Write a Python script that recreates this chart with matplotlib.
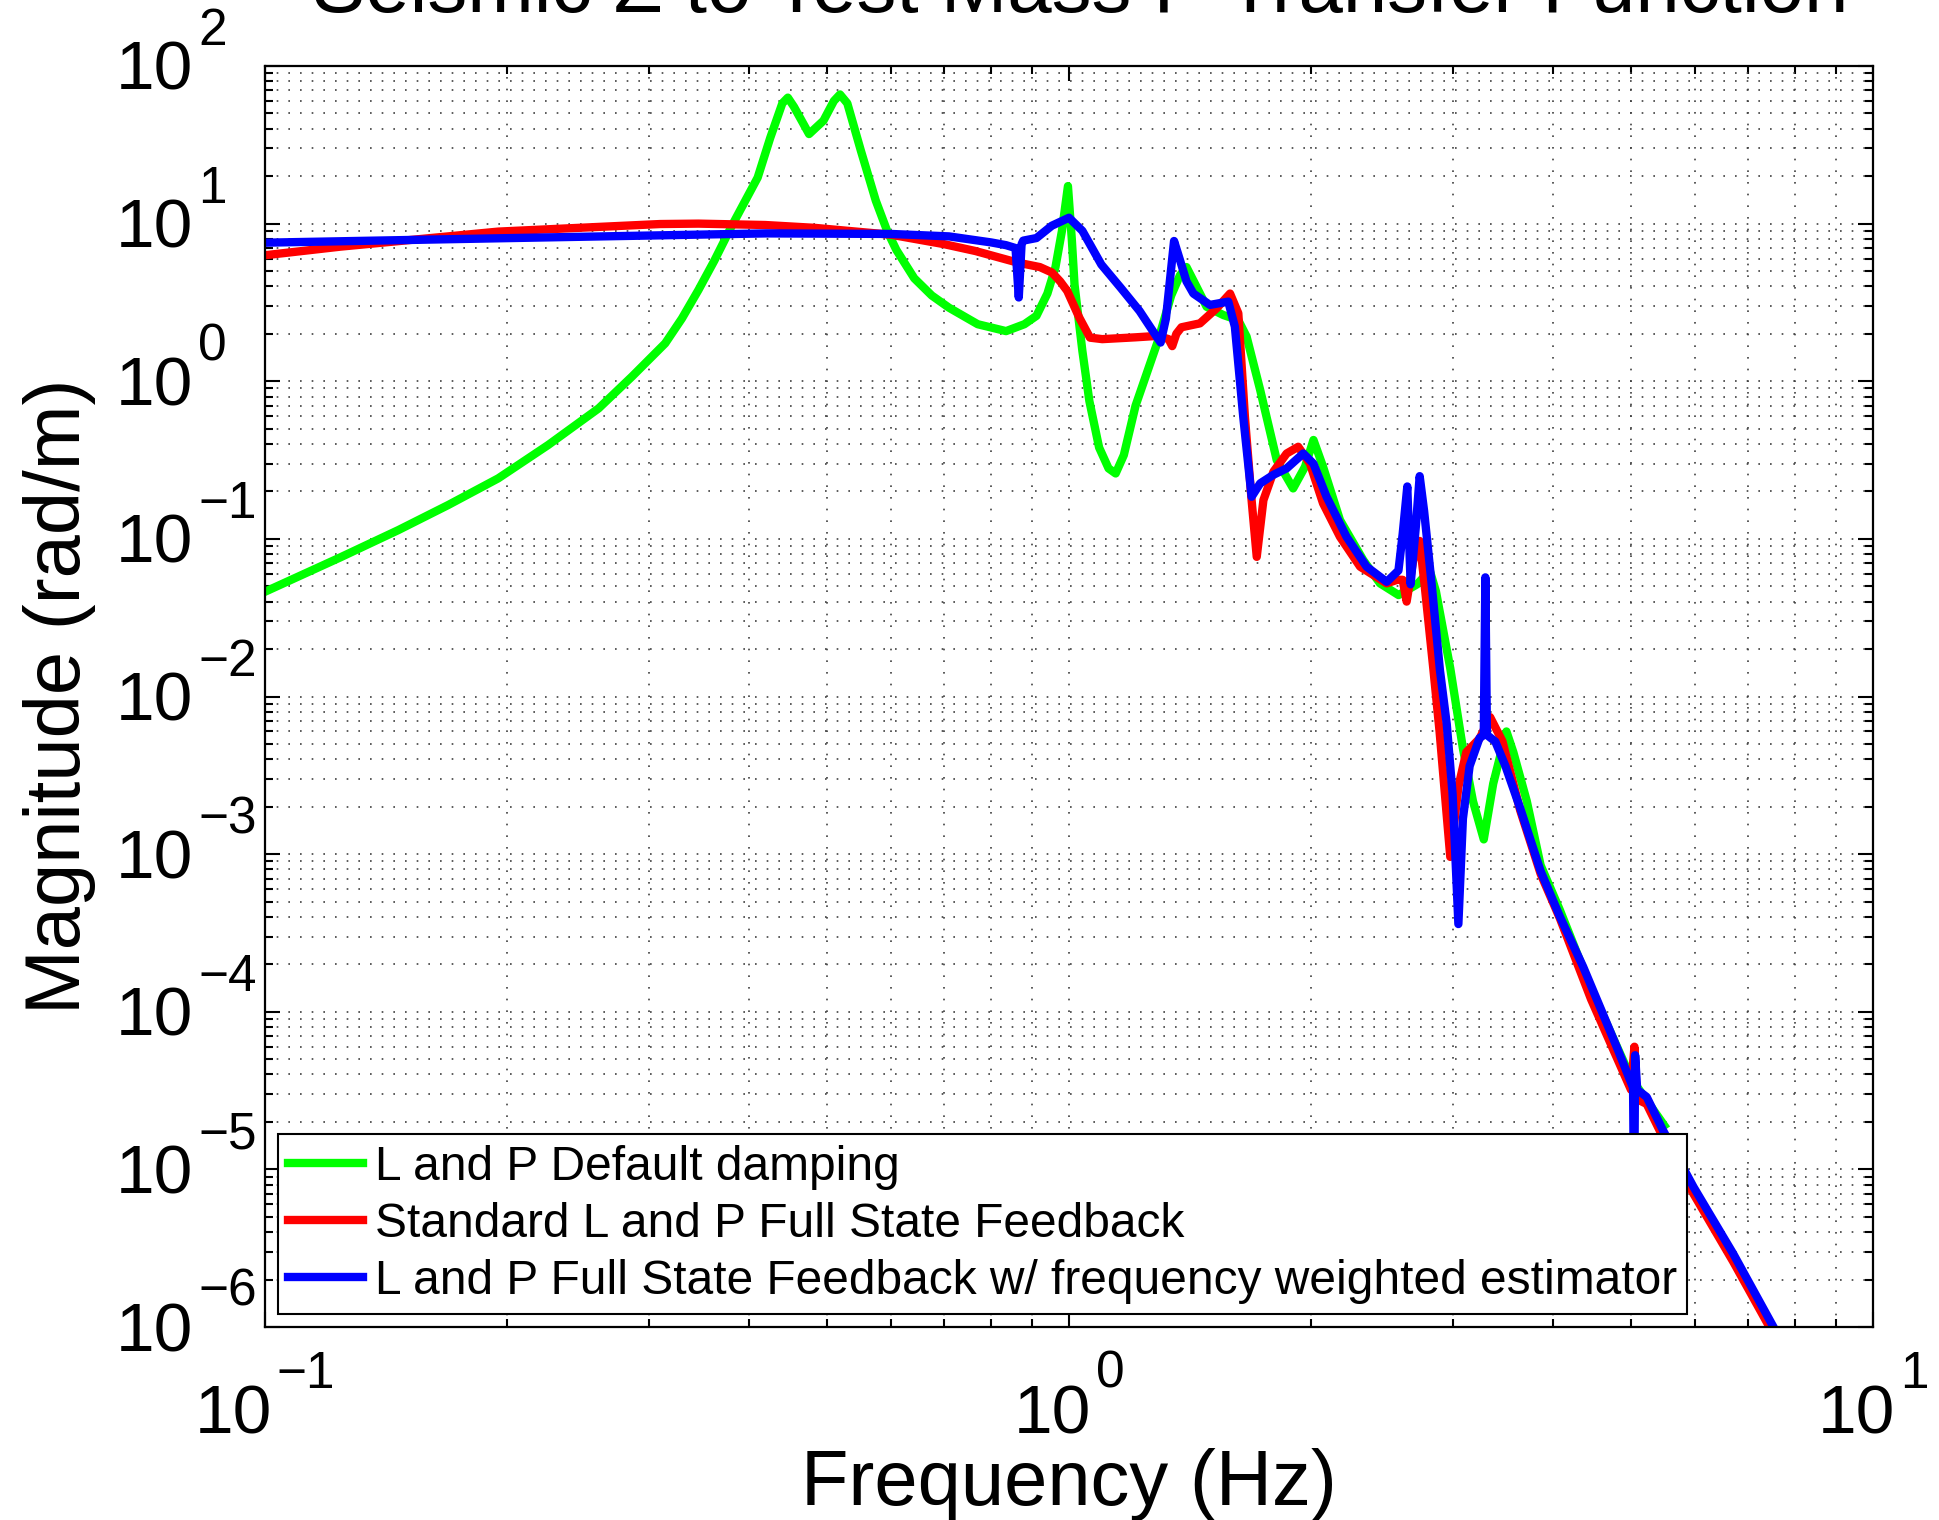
import numpy as np
import matplotlib
matplotlib.use('Agg')
import matplotlib.pyplot as plt
import matplotlib.transforms as mtransforms
from matplotlib.ticker import LogLocator, NullFormatter

plt.rcParams['font.family'] = ['Liberation Sans', 'DejaVu Sans']

# L and P default damping (green)
f_default = [0.1, 0.124, 0.1465, 0.169, 0.195, 0.225, 0.26, 0.286, 0.3146, 0.33,
             0.346, 0.362, 0.38, 0.41, 0.425, 0.44, 0.447, 0.455, 0.475, 0.495,
             0.51, 0.519, 0.53, 0.551, 0.575, 0.594, 0.61, 0.642, 0.675, 0.709,
             0.77, 0.835, 0.88, 0.911, 0.94, 0.962, 0.98, 0.997, 1.008, 1.016,
             1.039, 1.06, 1.09, 1.12, 1.143, 1.17, 1.21, 1.29, 1.34, 1.374,
             1.40, 1.44, 1.483, 1.556, 1.624, 1.663, 1.729, 1.813, 1.90, 1.966,
             2.014, 2.07, 2.173, 2.323, 2.437, 2.57, 2.71, 2.81, 2.86, 2.98,
             3.09, 3.18, 3.28, 3.37, 3.50, 3.57, 3.71, 3.86, 4.08, 4.46,
             5.0, 5.5]
mag_default = [0.0462, 0.0762, 0.1137, 0.164, 0.242, 0.394, 0.673, 1.07, 1.74, 2.5,
               3.79, 5.8, 9.5, 19.6, 35, 58, 63, 55, 37, 45,
               60, 66, 58, 29, 14, 9.0, 6.8, 4.5, 3.5, 2.93,
               2.3, 2.08, 2.3, 2.6, 3.6, 5.3, 9.0, 17.3, 8.0, 4.1,
               1.56, 0.75, 0.38, 0.28, 0.26, 0.34, 0.7, 1.8, 3.5, 4.7,
               5.3, 4.0, 2.97, 2.63, 2.44, 1.92, 0.88, 0.316, 0.209, 0.287,
               0.424, 0.287, 0.1316, 0.0733, 0.0522, 0.044, 0.0515, 0.063, 0.0465, 0.0151,
               0.00468, 0.00217, 0.00124, 0.0028, 0.006, 0.00443, 0.00217, 8.5e-4, 4.4e-4, 1.4e-4,
               3.8e-5, 1.9e-5]

# standard full state feedback (red)
f_standard = [0.1, 0.124, 0.195, 0.31, 0.346, 0.419, 0.483, 0.601, 0.70, 0.765,
              0.863, 0.92, 0.952, 0.975, 0.995, 1.03, 1.062, 1.10, 1.21, 1.29,
              1.33, 1.344, 1.36, 1.38, 1.455, 1.526, 1.586, 1.624, 1.655, 1.687,
              1.712, 1.745, 1.796, 1.865, 1.928, 1.994, 2.07, 2.173, 2.302, 2.484,
              2.56, 2.60, 2.63, 2.68, 2.73, 2.77, 2.84, 2.89, 2.98, 3.05,
              3.12, 3.24, 3.34, 3.46, 3.64, 3.86, 4.08, 4.46, 5.0, 5.05,
              5.08, 5.23, 5.48, 5.98, 6.7, 7.52, 7.6]
mag_standard = [6.3, 7.14, 8.9, 9.94, 10.0, 9.8, 9.4, 8.5, 7.4, 6.7,
                5.66, 5.3, 4.9, 4.3, 3.74, 2.53, 1.89, 1.85, 1.9, 1.94,
                1.85, 1.67, 2.0, 2.2, 2.33, 2.9, 3.6, 2.7, 0.596, 0.176,
                0.0769, 0.176, 0.267, 0.348, 0.384, 0.30, 0.168, 0.103, 0.0666, 0.0522,
                0.055, 0.055, 0.04, 0.073, 0.097, 0.05, 0.0147, 0.006, 9.6e-4, 0.00267,
                0.00443, 0.0054, 0.0074, 0.0052, 0.0019, 7.5e-4, 3.9e-4, 1.2e-4, 3.2e-5, 6e-5,
                2.8e-5, 2.6e-5, 1.6e-5, 7.0e-6, 2.6e-6, 9.0e-7, 8.0e-7]

# full state feedback w/ frequency weighted estimator (blue)
f_weighted = [0.1, 0.195, 0.42, 0.601, 0.709, 0.80, 0.835, 0.858, 0.866, 0.873,
              0.877, 0.911, 0.952, 1.0, 1.039, 1.097, 1.159, 1.224, 1.27, 1.30,
              1.32, 1.351, 1.374, 1.40, 1.428, 1.497, 1.578, 1.608, 1.647, 1.687,
              1.729, 1.796, 1.865, 1.956, 2.014, 2.091, 2.214, 2.345, 2.484, 2.569,
              2.60, 2.635, 2.66, 2.70, 2.73, 2.765, 2.825, 2.893, 2.95, 3.0,
              3.05, 3.09, 3.15, 3.24, 3.28, 3.295, 3.31, 3.39, 3.49, 3.64,
              3.86, 4.08, 4.36, 4.80, 5.03, 5.045, 5.06, 5.09, 5.23, 5.48,
              5.98, 6.70, 7.52, 7.6]
mag_weighted = [7.57, 8.07, 8.67, 8.6, 8.3, 7.6, 7.3, 7.0, 3.4, 7.4,
                7.8, 8.1, 9.7, 10.9, 9.0, 5.5, 3.93, 2.79, 2.1, 1.76,
                2.5, 7.76, 5.88, 4.3, 3.6, 3.05, 3.2, 2.22, 0.596, 0.185,
                0.225, 0.255, 0.28, 0.348, 0.30, 0.185, 0.103, 0.0666, 0.0534, 0.063,
                0.107, 0.215, 0.0515, 0.119, 0.25, 0.15, 0.052, 0.0147, 0.0067, 0.0024,
                3.6e-4, 0.00168, 0.00362, 0.00544, 0.0057, 0.057, 0.0057, 0.00518, 0.00362, 0.00196,
                7.8e-4, 4.0e-4, 1.93e-4, 5.98e-5, 3.3e-5, 5e-6, 5.3e-5, 3.2e-5, 2.88e-5, 1.77e-5,
                7.74e-6, 2.92e-6, 1.0e-6, 9.0e-7]

labels = ['L and P Default damping',
          'Standard L and P Full State Feedback',
          'L and P Full State Feedback w/ frequency weighted estimator']

x_decades = [-1, 0, 1]
y_decades = [-6, -5, -4, -3, -2, -1, 0, 1, 2]

fig = plt.figure(figsize=(19.39, 15.20), dpi=100)
ax = fig.add_axes([265/1939, 1 - 1327/1520, 1608/1939, 1261/1520])

lw = 6
ax.loglog(f_default, mag_default, color=(0, 1, 0), lw=lw, label=labels[0])
ax.loglog(f_standard, mag_standard, color=(1, 0, 0), lw=lw, label=labels[1])
ax.loglog(f_weighted, mag_weighted, color=(0, 0, 1), lw=lw, label=labels[2])

ax.set_xlim(0.1, 10)
ax.set_ylim(1e-6, 1e2)

for axis in (ax.xaxis, ax.yaxis):
    axis.set_major_locator(LogLocator(base=10, numticks=20))
    axis.set_minor_locator(LogLocator(base=10, subs=np.arange(2, 10), numticks=100))
    axis.set_minor_formatter(NullFormatter())

ax.grid(True, which='both', color='0.25', linestyle=(0, (1, 6)), linewidth=1.2)
ax.tick_params(which='both', direction='in', top=True, right=True, width=1.5,
               labelbottom=False, labelleft=False)
ax.tick_params(which='major', length=11)
ax.tick_params(which='minor', length=6)
for s in ax.spines.values():
    s.set_linewidth(1.6)


# MATLAB style log tick labels: a "10" with its exponent raised well above it
def shift(dx, dy):
    return mtransforms.ScaledTranslation(dx / fig.dpi, dy / fig.dpi, fig.dpi_scale_trans)


def exp_str(k):
    return str(k).replace('-', '\u2212')


base_fs, exp_fs = 50, 37
ty = ax.get_yaxis_transform()
for k in y_decades:
    ax.text(0, 10.0 ** k, '10', transform=ty + shift(-72, -24),
            ha='right', va='baseline', fontsize=base_fs, clip_on=False)
    ax.text(0, 10.0 ** k, exp_str(k), transform=ty + shift(-67, 21),
            ha='left', va='baseline', fontsize=exp_fs, clip_on=False)

tx = ax.get_xaxis_transform()
xt = []
for k in x_decades:
    b = ax.text(10.0 ** k, 0, '10', ha='right', va='baseline', fontsize=base_fs, clip_on=False)
    e = ax.text(10.0 ** k, 0, exp_str(k), ha='left', va='baseline', fontsize=exp_fs, clip_on=False)
    xt.append((b, e))
fig.canvas.draw()
renderer = fig.canvas.get_renderer()
gap = 5
for b, e in xt:
    wb = b.get_window_extent(renderer).width
    we = e.get_window_extent(renderer).width
    right = -(wb + gap + we) / 2 + wb
    b.set_transform(tx + shift(right, -106))
    e.set_transform(tx + shift(right + gap, -61))

ax.set_xlabel('Frequency (Hz)', fontsize=56, va='baseline')
ax.xaxis.set_label_coords(0.5, -0.141)
ax.set_ylabel('Magnitude (rad/m)', fontsize=56, va='baseline')
ax.yaxis.set_label_coords(-0.115, 0.5)

fig.text(1080 / 1939, 1 - 12 / 1520,
         'Seismic Z to Test Mass P Transfer Function',
         fontsize=57.5, ha='center', va='baseline')

leg = ax.legend(loc='lower left', bbox_to_anchor=(0, 0), fontsize=34.5,
                fancybox=False, framealpha=1, edgecolor='black',
                handlelength=1.55, handletextpad=0.25, labelspacing=0.25,
                borderaxespad=0.27, borderpad=0.22)
leg.get_frame().set_linewidth(1.5)

fig.savefig('out.png', dpi=100)
